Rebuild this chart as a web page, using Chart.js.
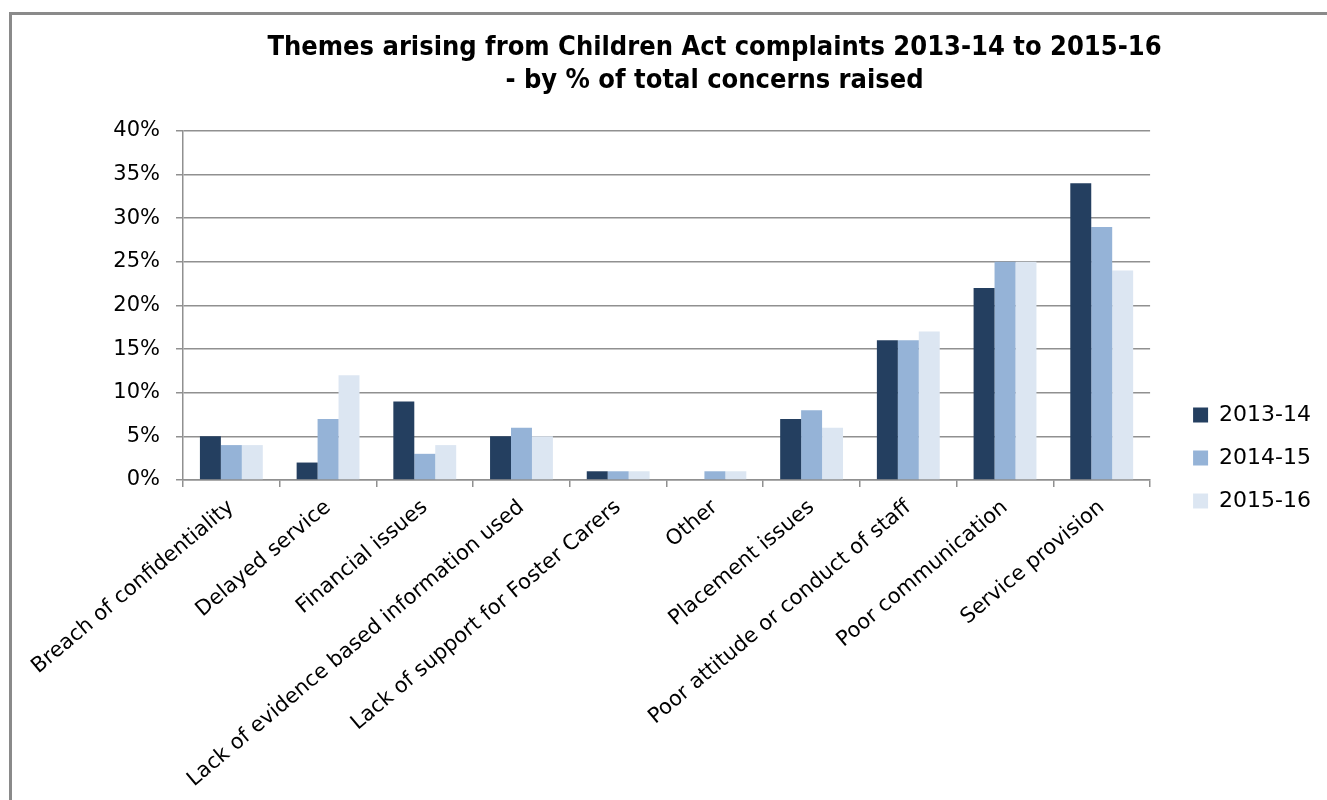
<!DOCTYPE html>
<html>
<head>
<meta charset="utf-8">
<script src="https://cdn.jsdelivr.net/npm/chart.js@4.4.1/dist/chart.umd.min.js"></script>
<style>
  body { margin: 0; background: #fff; }
  #wrap { width: 1327px; height: 800px; }
</style>
</head>
<body>
<div id="wrap"><canvas id="myChart" width="1327" height="800"></canvas></div>
<script>
const categories = [
  'Breach of confidentiality',
  'Delayed service',
  'Financial issues',
  'Lack of evidence based information used',
  'Lack of support for Foster Carers',
  'Other',
  'Placement issues',
  'Poor attitude or conduct of staff',
  'Poor communication',
  'Service provision'
];
const years = ['2013-14', '2014-15', '2015-16'];
const values1314 = [5, 2, 9, 5, 1, 0, 7, 16, 22, 34];
const values1415 = [4, 7, 3, 6, 1, 1, 8, 16, 25, 29];
const values1516 = [4, 12, 4, 5, 1, 1, 6, 17, 25, 24];
const yTicks = [0, 5, 10, 15, 20, 25, 30, 35, 40];
const colors = ['#243f60', '#95b3d7', '#dce6f2'];

// white page + grey frame like the pasted excel chart
const framePlugin = {
  id: 'frame',
  beforeDraw(chart) {
    const ctx = chart.ctx;
    ctx.save();
    ctx.fillStyle = '#fff';
    ctx.fillRect(0, 0, chart.width, chart.height);
    ctx.strokeStyle = '#8a8a8a';
    ctx.lineWidth = 3;
    ctx.beginPath();
    ctx.moveTo(10.5, chart.height);
    ctx.lineTo(10.5, 13.5);
    ctx.lineTo(chart.width, 13.5);
    ctx.stroke();
    ctx.restore();
  }
};

// nudge legend + title to where excel put them
const nudge = {
  id: 'nudge',
  afterLayout(chart) {
    const lg = chart.legend;
    const w = lg.width;
    lg.left = chart.chartArea.right + 22;
    lg.right = lg.left + w;
    lg.top += 58;
    lg.bottom += 58;
    const t = chart.titleBlock;
    t.left += 15;
    t.right += 15;
  }
};

const data = {
  labels: categories,
  datasets: [
    { label: years[0], data: values1314, backgroundColor: colors[0] },
    { label: years[1], data: values1415, backgroundColor: colors[1] },
    { label: years[2], data: values1516, backgroundColor: colors[2] }
  ]
};

const config = {
  type: 'bar',
  data: data,
  plugins: [framePlugin, nudge],
  options: {
    responsive: false,
    animation: false,
    layout: { padding: { left: 100, right: 28, top: 0, bottom: 0 } },
    datasets: {
      bar: { categoryPercentage: 0.65, barPercentage: 1.0 }
    },
    plugins: {
      title: {
        display: true,
        text: ['Themes arising from Children Act complaints 2013-14 to 2015-16',
               '- by % of total concerns raised'],
        color: '#000',
        font: { family: 'DejaVu Sans Condensed', size: 27, weight: 'bold', lineHeight: 1.22 },
        padding: { top: 32, bottom: 33 }
      },
      legend: {
        position: 'right',
        labels: {
          color: '#000',
          font: { family: 'DejaVu Sans', size: 22 },
          boxWidth: 15,
          boxHeight: 15,
          padding: 21
        }
      },
      tooltip: { enabled: false }
    },
    scales: {
      x: {
        afterFit(scale) { scale.height = 320; },
        grid: {
          offset: true,
          drawOnChartArea: false,
          drawTicks: true,
          tickLength: 7,
          color: '#909090',
          lineWidth: 1.5
        },
        border: { color: '#909090', width: 1.5 },
        ticks: {
          color: '#000',
          font: { family: 'DejaVu Sans', size: 21 },
          minRotation: 40,
          maxRotation: 40,
          autoSkip: false,
          padding: 8
        }
      },
      y: {
        min: 0,
        max: 40,
        afterFit(scale) { scale.width = 83; },
        afterBuildTicks(scale) { scale.ticks = yTicks.map(v => ({ value: v })); },
        grid: {
          color: '#909090',
          lineWidth: 1.5,
          tickLength: 7
        },
        border: { color: '#909090', width: 1.5 },
        ticks: {
          color: '#000',
          font: { family: 'DejaVu Sans', size: 21 },
          padding: 16,
          callback: v => v + '%'
        }
      }
    }
  }
};

const myChart = new Chart(document.getElementById('myChart'), config);
</script>
</body>
</html>
